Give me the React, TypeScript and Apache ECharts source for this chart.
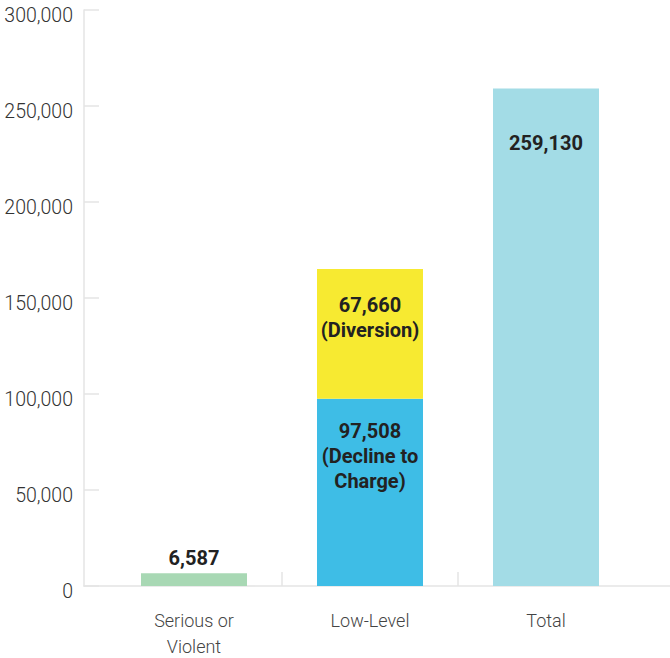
import React, { useEffect, useRef } from "react";
import * as echarts from "echarts";

const categories = ["Serious or\nViolent", "Low-Level", "Total"];
const boundaryTicks = [1, 2];
const seriousValues: (number | null)[] = [6587, null, null];
const declineValues: (number | null)[] = [null, 97508, null];
const diversionValues: (number | null)[] = [null, 67660, null];
const totalValues: (number | null)[] = [null, null, 259130];
const yTicks = [0, 50000, 100000, 150000, 200000, 250000, 300000];

const fmt = (v: number) => v.toLocaleString("en-US");
const axisColor = "#e4e4e4";

export default function App() {
  const ref = useRef<HTMLDivElement>(null);
  useEffect(() => {
    document.body.style.margin = "0";
    if (!ref.current) return;
    const chart = echarts.init(ref.current, undefined, { renderer: "svg" });
    const labelBase = {
      show: true,
      color: "#222",
      fontFamily: "Roboto",
      fontWeight: "bold" as const,
      fontSize: 20,
      lineHeight: 25,
      align: "center" as const,
    };
    const yMin = yTicks[0];
    const yMax = yTicks[yTicks.length - 1];
    chart.setOption({
      animation: false,
      grid: [
        { left: 106, right: 36, top: 10, bottom: 72, outerBoundsMode: "none" },
        { left: 84, right: 0, top: 10, bottom: 72, outerBoundsMode: "none" },
      ],
      xAxis: [
        {
          type: "category",
          gridIndex: 0,
          position: "bottom",
          data: categories,
          axisLine: { show: false },
          axisTick: { show: false },
          axisLabel: {
            color: "#444",
            fontFamily: "Roboto",
            fontWeight: 300,
            fontSize: 18,
            lineHeight: 26,
            margin: 21,
          },
        },
        {
          type: "value",
          gridIndex: 0,
          position: "bottom",
          min: 0,
          max: categories.length,
          splitLine: { show: false },
          axisLine: { show: false },
          axisLabel: { show: false },
          axisTick: {
            show: true,
            inside: true,
            length: 14,
            customValues: boundaryTicks,
            lineStyle: { color: axisColor, width: 1.5 },
          },
        },
        {
          type: "value",
          gridIndex: 1,
          position: "bottom",
          min: 0,
          max: 1,
          splitLine: { show: false },
          axisLine: { show: true, lineStyle: { color: axisColor, width: 1.5 } },
          axisTick: { show: false },
          axisLabel: { show: false },
        },
      ],
      yAxis: [
        {
          type: "value",
          gridIndex: 0,
          min: yMin,
          max: yMax,
          interval: 50000,
          show: false,
        },
        {
          type: "value",
          gridIndex: 1,
          min: yMin,
          max: yMax,
          interval: 50000,
          splitLine: { show: false },
          axisLine: { show: true, onZero: false, lineStyle: { color: axisColor, width: 1.5 } },
          axisTick: { show: true, inside: true, length: 15, lineStyle: { color: axisColor, width: 1.5 } },
          axisLabel: {
            formatter: (v: number) => fmt(v),
            color: "#333",
            fontFamily: "Roboto",
            fontWeight: 300,
            fontSize: 19.5,
            margin: 11,
            verticalAlign: "top",
            lineHeight: 10,
          },
        },
      ],
      series: [
        {
          name: "Serious or Violent",
          type: "bar",
          xAxisIndex: 0,
          yAxisIndex: 0,
          stack: "all",
          barWidth: 106,
          data: seriousValues,
          itemStyle: { color: "#a8d8b4" },
          label: { ...labelBase, position: "top", distance: 3, formatter: (p: any) => fmt(p.value) },
        },
        {
          name: "Decline to Charge",
          type: "bar",
          xAxisIndex: 0,
          yAxisIndex: 0,
          stack: "all",
          barWidth: 106,
          data: declineValues,
          itemStyle: { color: "#3ebde6" },
          label: {
            ...labelBase,
            position: "insideTop",
            distance: 20,
            formatter: (p: any) => fmt(p.value) + "\n(Decline to\nCharge)",
          },
        },
        {
          name: "Diversion",
          type: "bar",
          xAxisIndex: 0,
          yAxisIndex: 0,
          stack: "all",
          barWidth: 106,
          data: diversionValues,
          itemStyle: { color: "#f7ea31" },
          label: {
            ...labelBase,
            position: "insideTop",
            distance: 24,
            formatter: (p: any) => fmt(p.value) + "\n(Diversion)",
          },
        },
        {
          name: "Total",
          type: "bar",
          xAxisIndex: 0,
          yAxisIndex: 0,
          stack: "all",
          barWidth: 106,
          data: totalValues,
          itemStyle: { color: "#a3dce6" },
          label: { ...labelBase, position: "insideTop", distance: 42, formatter: (p: any) => fmt(p.value) },
        },
      ],
    });
    return () => chart.dispose();
  }, []);
  return <div ref={ref} style={{ width: 670, height: 658 }} />;
}
